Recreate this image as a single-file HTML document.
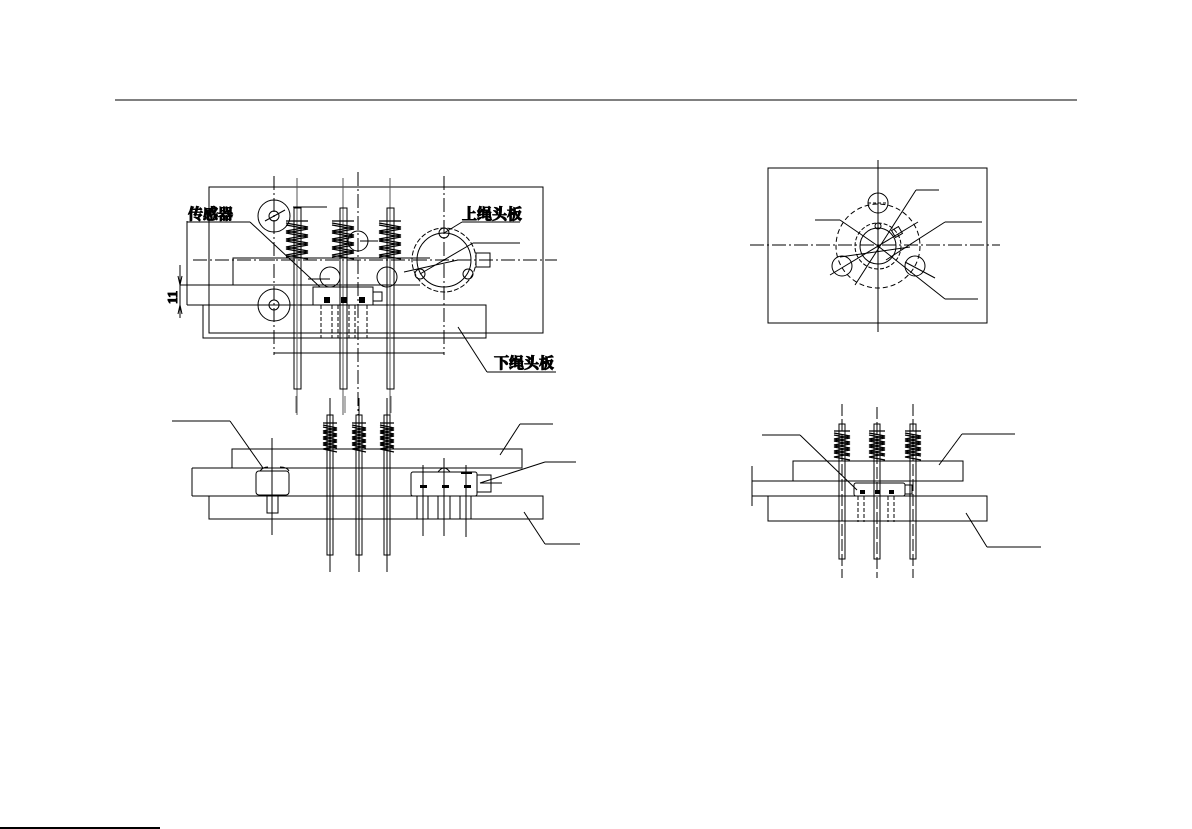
<!DOCTYPE html>
<html><head><meta charset="utf-8"><style>
html,body{margin:0;padding:0;background:#fff;}
svg{display:block}
text{font-family:"Liberation Serif","Noto Serif CJK SC",serif;font-weight:bold;fill:#000}
</style></head><body>
<svg width="1192" height="829" viewBox="0 0 1192 829" xmlns="http://www.w3.org/2000/svg" fill="none" stroke="#000" stroke-width="1">
<line x1="115" y1="100" x2="1077" y2="100"/>
<line x1="0" y1="828" x2="160" y2="828" stroke-width="2"/>

<rect x="209" y="187" width="334" height="146"/>
<rect x="203" y="305" width="283" height="33"/>
<polyline points="233,285 233,258 430,258"/>
<line x1="180" y1="285" x2="420" y2="285"/>
<line x1="187" y1="305" x2="320" y2="305"/>
<line x1="187" y1="221" x2="187" y2="305"/>
<line x1="193" y1="260" x2="557" y2="260" stroke-dasharray="14,3,2,3"/>
<line x1="274" y1="176" x2="274" y2="355" stroke-dasharray="14,3,2,3"/>
<line x1="358" y1="172" x2="358" y2="415" stroke-dasharray="14,3,2,3"/>
<line x1="444" y1="176" x2="444" y2="355" stroke-dasharray="14,3,2,3"/>
<line x1="297" y1="178" x2="297" y2="415" stroke="#555"/>
<line x1="343" y1="178" x2="343" y2="415" stroke="#555"/>
<line x1="390" y1="178" x2="390" y2="415" stroke="#555"/>
<rect x="294" y="208" width="7" height="181"/>
<rect x="340" y="208" width="7" height="181"/>
<rect x="387" y="208" width="7" height="181"/>
<g stroke-width="1.3">
<path d="M286,221 h22 M286,223 l22,4 l-22,4 l22,4 l-22,4 l22,4 l-22,4 l22,4 l-22,4 l22,4"/>
<path d="M286,225 l22,4 l-22,4 l22,4 l-22,4 l22,4 l-22,4 l22,4 l-22,4"/>
<path d="M332,221 h22 M332,223 l22,4 l-22,4 l22,4 l-22,4 l22,4 l-22,4 l22,4 l-22,4 l22,4"/>
<path d="M332,225 l22,4 l-22,4 l22,4 l-22,4 l22,4 l-22,4 l22,4 l-22,4"/>
<path d="M379,221 h22 M379,223 l22,4 l-22,4 l22,4 l-22,4 l22,4 l-22,4 l22,4 l-22,4 l22,4"/>
<path d="M379,225 l22,4 l-22,4 l22,4 l-22,4 l22,4 l-22,4 l22,4 l-22,4"/>
</g>
<circle cx="274" cy="216" r="16"/><circle cx="274" cy="216" r="5"/>
<line x1="265" y1="221" x2="285" y2="210"/>
<circle cx="274" cy="305" r="16"/><circle cx="274" cy="305" r="5"/>
<circle cx="330" cy="277" r="10"/><circle cx="387" cy="277" r="10"/>
<circle cx="358" cy="241" r="10"/>
<line x1="360" y1="241" x2="378" y2="241"/>
<line x1="308" y1="279" x2="330" y2="279"/>
<circle cx="444" cy="260" r="32" stroke-dasharray="5,2"/>
<circle cx="444" cy="260" r="27"/>
<circle cx="444" cy="233" r="5"/><circle cx="420" cy="274" r="5"/><circle cx="468" cy="274" r="5"/>
<rect x="476" y="253" width="14" height="14"/>
<line x1="420" y1="274" x2="473" y2="243"/><line x1="473" y1="243" x2="520" y2="243"/>
<line x1="404" y1="272" x2="458" y2="260"/>
<line x1="293" y1="207" x2="327" y2="207"/>
<rect x="313" y="287" width="60" height="18"/>
<rect x="373" y="292" width="9" height="9"/>
<g fill="#000" stroke="none"><rect x="324" y="297" width="6" height="6"/><rect x="341" y="297" width="6" height="6"/><rect x="359" y="297" width="6" height="6"/></g>
<g stroke-dasharray="4,2">
<line x1="321" y1="305" x2="321" y2="338"/><line x1="332" y1="305" x2="332" y2="338"/>
<line x1="338" y1="305" x2="338" y2="338"/><line x1="349" y1="305" x2="349" y2="338"/>
<line x1="355" y1="305" x2="355" y2="338"/><line x1="367" y1="305" x2="367" y2="338"/>
</g>
<line x1="274" y1="353" x2="444" y2="353"/>
<line x1="180" y1="265" x2="180" y2="318"/>
<path d="M178,276 l2,9 l2,-9 M178,314 l2,-9 l2,9" />
<text font-size="14" transform="translate(177,304) rotate(-90)">11</text>
<text x="188" y="219" font-size="15">传感器</text>
<line x1="187" y1="222" x2="250" y2="222"/><line x1="250" y1="222" x2="320" y2="287"/>
<text x="462" y="219" font-size="15">上绳头板</text>
<line x1="462" y1="222" x2="520" y2="222"/><line x1="462" y1="222" x2="444" y2="233"/>
<text x="494" y="368" font-size="15">下绳头板</text>
<line x1="487" y1="372" x2="556" y2="372"/><line x1="487" y1="372" x2="458" y2="327"/>

<line x1="296" y1="396" x2="296" y2="413" stroke="#666"/><line x1="345" y1="396" x2="345" y2="413" stroke="#666"/><line x1="391" y1="396" x2="391" y2="413" stroke="#666"/>
<rect x="232" y="449" width="290" height="19"/>
<line x1="192" y1="468" x2="522" y2="468"/>
<line x1="192" y1="496" x2="209" y2="496"/>
<line x1="192" y1="468" x2="192" y2="496"/>
<rect x="209" y="496" width="334" height="23"/>
<rect x="327" y="415" width="6" height="140"/><rect x="356" y="415" width="6" height="140"/><rect x="384" y="415" width="6" height="140"/>
<line x1="330" y1="398" x2="330" y2="572"/><line x1="359" y1="398" x2="359" y2="572"/><line x1="387" y1="398" x2="387" y2="572"/>
<g stroke-width="1.3">
<path d="M323,423 h14 M323,425 l14,3 l-14,3 l14,3 l-14,3 l14,3 l-14,3 l14,3 l-14,3 l14,3"/>
<path d="M323,427 l14,3 l-14,3 l14,3 l-14,3 l14,3 l-14,3 l14,3"/>
<path d="M352,423 h14 M352,425 l14,3 l-14,3 l14,3 l-14,3 l14,3 l-14,3 l14,3 l-14,3 l14,3"/>
<path d="M352,427 l14,3 l-14,3 l14,3 l-14,3 l14,3 l-14,3 l14,3"/>
<path d="M380,423 h14 M380,425 l14,3 l-14,3 l14,3 l-14,3 l14,3 l-14,3 l14,3 l-14,3 l14,3"/>
<path d="M380,427 l14,3 l-14,3 l14,3 l-14,3 l14,3 l-14,3 l14,3"/>
</g>
<rect x="256" y="471" width="33" height="24" rx="3"/>
<path d="M260,471 q3,-4 8,-4 M280,467 q7,0 9,4"/>
<rect x="267" y="496" width="11" height="17"/>
<line x1="272" y1="438" x2="272" y2="535"/>
<rect x="411" y="472" width="66" height="24" rx="2"/>
<rect x="477" y="475" width="14" height="17"/>
<path d="M438,472 q6,-8 12,0"/>
<g fill="#000" stroke="none"><rect x="420" y="485" width="7" height="3"/><rect x="442" y="485" width="7" height="3"/><rect x="464" y="485" width="7" height="3"/><rect x="461" y="472" width="11" height="2"/></g>
<rect x="417" y="496" width="11" height="23"/><rect x="438" y="496" width="12" height="23"/><rect x="460" y="496" width="11" height="23"/>
<line x1="423" y1="465" x2="423" y2="536"/><line x1="444" y1="458" x2="444" y2="536"/><line x1="466" y1="465" x2="466" y2="537"/>
<line x1="172" y1="421" x2="230" y2="421"/><line x1="230" y1="421" x2="263" y2="468"/>
<line x1="520" y1="424" x2="553" y2="424"/><line x1="520" y1="424" x2="500" y2="455"/>
<line x1="545" y1="462" x2="576" y2="462"/><line x1="545" y1="462" x2="480" y2="483"/><line x1="480" y1="483" x2="502" y2="483"/>
<line x1="545" y1="544" x2="580" y2="544"/><line x1="545" y1="544" x2="524" y2="512"/>

<rect x="768" y="168" width="219" height="155"/>
<line x1="750" y1="245" x2="1000" y2="245" stroke-dasharray="14,3,2,3"/>
<line x1="878" y1="160" x2="878" y2="332"/>
<circle cx="878" cy="246" r="42" stroke-dasharray="5,3"/>
<circle cx="878" cy="246" r="23" stroke-dasharray="4,2"/>
<circle cx="878" cy="246" r="18"/>
<circle cx="878" cy="203" r="10"/><circle cx="842" cy="266" r="10"/><circle cx="915" cy="266" r="10"/>
<line x1="868" y1="203" x2="888" y2="203" stroke-dasharray="3,2"/>
<circle cx="878" cy="226" r="3"/>
<rect x="893" y="228" width="8" height="8" transform="rotate(-30 897 232)"/>
<line x1="916" y1="190" x2="939" y2="190"/><line x1="916" y1="190" x2="855" y2="285"/>
<line x1="815" y1="220" x2="840" y2="220"/><line x1="840" y1="220" x2="878" y2="246"/>
<line x1="945" y1="222" x2="982" y2="222"/><line x1="945" y1="222" x2="886" y2="260"/>
<line x1="945" y1="299" x2="978" y2="299"/><line x1="945" y1="299" x2="878" y2="246"/>
<line x1="830" y1="275" x2="918" y2="222"/>
<line x1="905" y1="262" x2="935" y2="278"/>
<line x1="840" y1="257" x2="910" y2="247"/>

<rect x="793" y="461" width="170" height="20"/>
<line x1="752" y1="481" x2="793" y2="481"/>
<line x1="752" y1="496" x2="768" y2="496"/>
<line x1="752" y1="466" x2="752" y2="506"/>
<rect x="768" y="496" width="219" height="25"/>
<rect x="839" y="424" width="6" height="135"/><rect x="874" y="424" width="6" height="135"/><rect x="910" y="424" width="6" height="135"/>
<line x1="842" y1="404" x2="842" y2="578" stroke-dasharray="12,3"/><line x1="877" y1="407" x2="877" y2="578" stroke-dasharray="12,3"/><line x1="913" y1="404" x2="913" y2="578" stroke-dasharray="12,3"/>
<g stroke-width="1.3">
<path d="M834,431 h16 M834,433 l16,3 l-16,3 l16,3 l-16,3 l16,3 l-16,3 l16,3 l-16,3 l16,3"/>
<path d="M834,435 l16,3 l-16,3 l16,3 l-16,3 l16,3 l-16,3 l16,3"/>
<path d="M869,431 h16 M869,433 l16,3 l-16,3 l16,3 l-16,3 l16,3 l-16,3 l16,3 l-16,3 l16,3"/>
<path d="M869,435 l16,3 l-16,3 l16,3 l-16,3 l16,3 l-16,3 l16,3"/>
<path d="M905,431 h16 M905,433 l16,3 l-16,3 l16,3 l-16,3 l16,3 l-16,3 l16,3 l-16,3 l16,3"/>
<path d="M905,435 l16,3 l-16,3 l16,3 l-16,3 l16,3 l-16,3 l16,3"/>
</g>
<rect x="854" y="483" width="51" height="13" rx="2"/>
<rect x="905" y="485" width="7" height="9"/>
<g fill="#000" stroke="none"><rect x="860" y="490" width="5" height="4"/><rect x="875" y="490" width="5" height="4"/><rect x="889" y="490" width="5" height="4"/></g>
<g stroke-dasharray="4,2">
<line x1="858" y1="496" x2="858" y2="522"/><line x1="864" y1="496" x2="864" y2="522"/>
<line x1="880" y1="496" x2="880" y2="522"/><line x1="888" y1="496" x2="888" y2="522"/><line x1="894" y1="496" x2="894" y2="522"/>
</g>
<line x1="762" y1="435" x2="800" y2="435"/><line x1="800" y1="435" x2="857" y2="490"/>
<line x1="962" y1="434" x2="1015" y2="434"/><line x1="962" y1="434" x2="939" y2="465"/>
<line x1="987" y1="547" x2="1041" y2="547"/><line x1="987" y1="547" x2="966" y2="513"/>
</svg>
</body></html>
